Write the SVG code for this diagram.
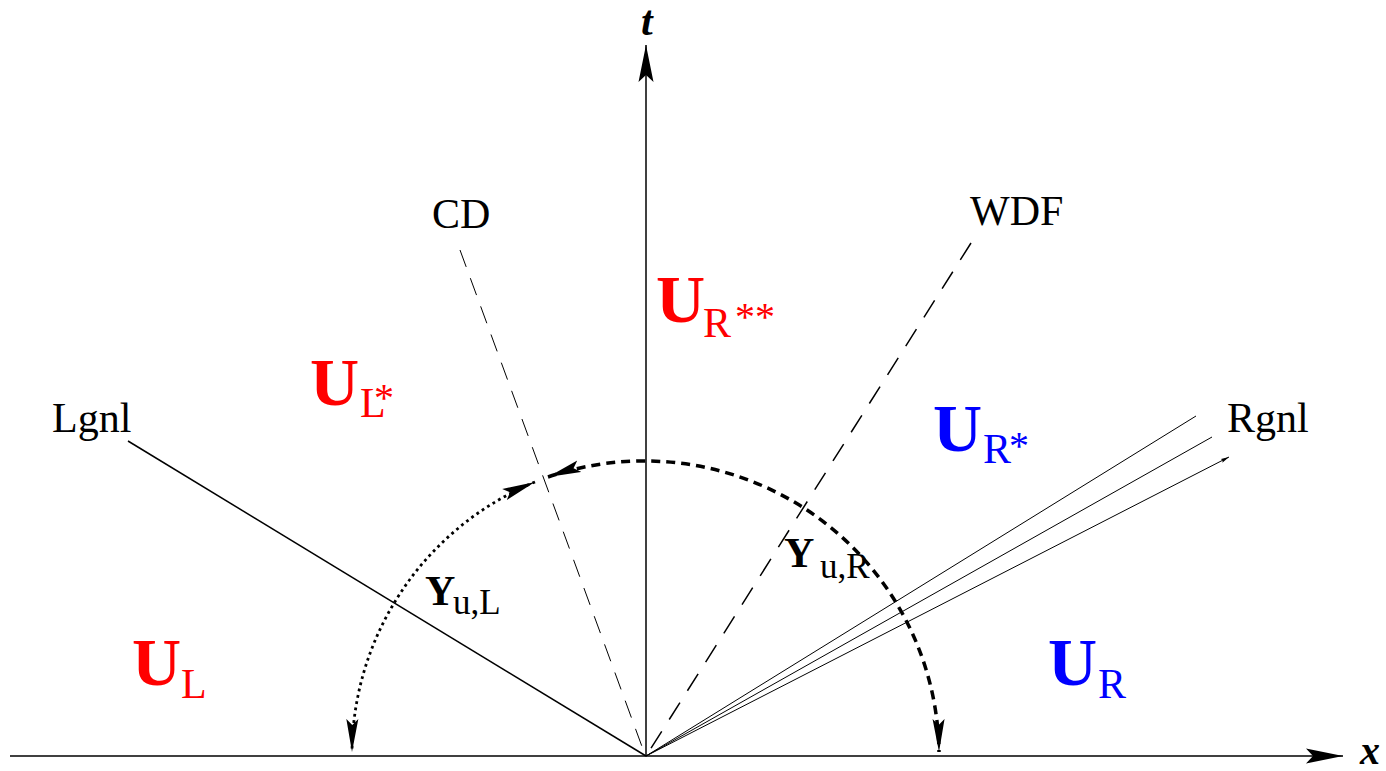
<svg xmlns="http://www.w3.org/2000/svg" width="1386" height="771" viewBox="0 0 1386 771">
<style>
text{font-family:"Liberation Serif","Times New Roman",serif;}
.lbl{font-size:42px;fill:#000;}
.ub{font-size:68px;font-weight:bold;}
.sub{font-size:42px;}
.ast{font-size:40px;}
.red{fill:#ff0000;}
.blue{fill:#0000ff;}
.yb{font-size:42px;font-weight:bold;fill:#000;}
.ys{font-size:35px;fill:#000;}
.ax{stroke:#000;stroke-width:1.5;fill:none;}
.solid{stroke:#000;stroke-width:1.5;fill:none;}
.thin{stroke:#000;stroke-width:1;fill:none;}
.cd{stroke:#000;stroke-width:1;fill:none;stroke-dasharray:18 12;}
.wdf{stroke:#000;stroke-width:1.5;fill:none;stroke-dasharray:20 14;}
.dotarc{stroke:#000;stroke-width:2.8;fill:none;stroke-dasharray:2.8 3.6;}
.dasharc{stroke:#000;stroke-width:3.5;fill:none;stroke-dasharray:9 6;}
</style>
<defs>
<marker id="axArrow" viewBox="0 0 38 16" refX="37" refY="8" markerWidth="38" markerHeight="16" markerUnits="userSpaceOnUse" orient="auto">
<path d="M37,8 L0,0.5 L7,8 L0,15.5 Z" fill="#000"/>
</marker>
<marker id="arcArrow" viewBox="0 0 34 13" refX="33" refY="6.5" markerWidth="34" markerHeight="13" markerUnits="userSpaceOnUse" orient="auto-start-reverse">
<path d="M33,6.5 L0,0.5 L6,6.5 L0,12.5 Z" fill="#000"/>
</marker>
<marker id="tinyArrow" viewBox="0 0 9 5" refX="8.5" refY="2.5" markerWidth="9" markerHeight="5" markerUnits="userSpaceOnUse" orient="auto">
<path d="M8.5,2.5 L0,0.5 L1.5,2.5 L0,4.5 Z" fill="#000"/>
</marker>
</defs>
<rect width="1386" height="771" fill="#fff"/>

<g id="connectors">
<line id="x-axis" class="ax" x1="10" y1="756" x2="1343" y2="756" marker-end="url(#axArrow)"/>
<line id="t-axis" class="ax" x1="646" y1="756" x2="646" y2="45" marker-end="url(#axArrow)"/>
<line id="lgnl-line" class="solid" x1="646" y1="756" x2="128" y2="441"/>
<line id="cd-line" class="cd" x1="460" y1="250" x2="644" y2="752"/>
<line id="wdf-line" class="wdf" x1="971" y1="243" x2="648" y2="753"/>
<line id="rgnl-1" class="thin" x1="646" y1="756" x2="1196" y2="416"/>
<line id="rgnl-2" class="thin" x1="646" y1="756" x2="1212" y2="437"/>
<line id="rgnl-3" class="thin" x1="646" y1="756" x2="1229" y2="457" marker-end="url(#tinyArrow)"/>
<path id="arc-left" class="dotarc" d="M535,482 A295,295 0 0 0 352,752" marker-start="url(#arcArrow)" marker-end="url(#arcArrow)"/>
<path id="arc-right" class="dasharc" d="M548,477 A295,295 0 0 1 939,752" marker-start="url(#arcArrow)" marker-end="url(#arcArrow)"/>
</g>

<g id="axis-labels">
<text id="t-label" x="641" y="35" style="font-size:42px;font-weight:bold;font-style:italic">t</text>
<text id="x-label" x="1360" y="764" style="font-size:40px;font-weight:bold;font-style:italic">x</text>
</g>

<g id="wave-labels">
<text id="lgnl-label" class="lbl" x="52" y="432">Lgnl</text>
<text id="cd-label" class="lbl" x="432" y="228">CD</text>
<text id="wdf-label" class="lbl" x="970" y="225">WDF</text>
<text id="rgnl-label" class="lbl" x="1227" y="432">Rgnl</text>
</g>

<g id="state-UL">
<text class="ub red" x="132" y="685">U</text>
<text class="sub red" x="181" y="698">L</text>
</g>
<g id="state-ULstar">
<text class="ub red" x="310" y="405">U</text>
<text class="sub red" x="360" y="417">L<tspan class="ast" x="374" y="411">*</tspan></text>
</g>
<g id="state-URss">
<text class="ub red" x="656" y="322">U</text>
<text class="sub red" x="703" y="337">R<tspan class="ast" x="735" y="330">**</tspan></text>
</g>
<g id="state-URstar">
<text class="ub blue" x="933" y="451">U</text>
<text class="sub blue" x="983" y="463">R<tspan class="ast" x="1009" y="459">*</tspan></text>
</g>
<g id="state-UR">
<text class="ub blue" x="1048" y="685">U</text>
<text class="sub blue" x="1098" y="698">R</text>
</g>

<g id="Y-uL">
<text class="yb" x="425" y="605">Y</text>
<text class="ys" x="453" y="614">u,L</text>
</g>
<g id="Y-uR">
<text class="yb" x="784" y="567">Y</text>
<text class="ys" x="820" y="578">u,R</text>
</g>
</svg>
